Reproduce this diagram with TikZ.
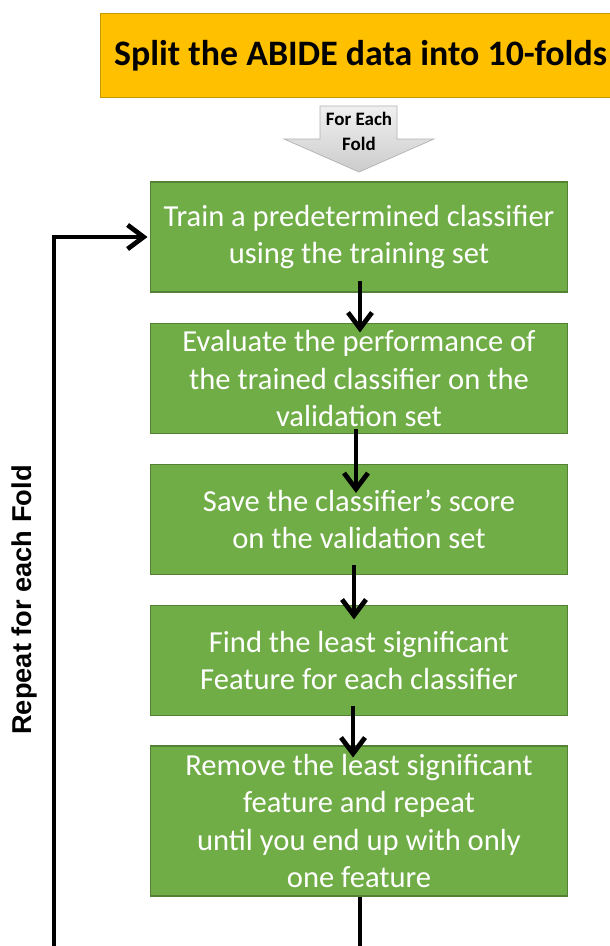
\documentclass[tikz,border=0pt]{standalone}
\usepackage{fontspec}
\setmainfont{Carlito}
\newfontfamily\repfont{Liberation Sans}
\usetikzlibrary{arrows.meta, positioning}

\definecolor{splitfill}{HTML}{FFC000}
\definecolor{splitedge}{HTML}{C99A00}
\definecolor{stepfill}{HTML}{70AD47}
\definecolor{stepedge}{HTML}{548235}

\begin{document}
\begin{tikzpicture}[x=0.02cm, y=-0.02cm,
      splitbox/.style={draw=splitedge, fill=splitfill, line width=0.6pt,
                       minimum width=10.4cm, minimum height=1.68cm, inner sep=0pt,
                       font=\fontsize{20.4}{24}\selectfont\bfseries},
      stepbox/.style={draw=stepedge, fill=stepfill, text=white, line width=0.6pt,
                      minimum width=8.36cm, minimum height=2.2cm, inner sep=0pt,
                      align=center, font=\fontsize{17.4}{21.3}\selectfont},
      foldlbl/.style={align=center, font=\fontsize{10.8}{14.2}\selectfont\bfseries},
      replbl/.style={rotate=90, font=\repfont\fontsize{15.5}{18}\selectfont\bfseries},
      flow/.style={-{Straight Barb[length=3.2mm,width=4.8mm]}, line width=0.095cm},
      loopline/.style={line width=0.095cm}]

    \useasboundingbox (0,0) rectangle (609,946);

    % ===== Split box (runs off the right edge) =====
    \node[splitbox, anchor=north west] (split) at (100,13) {Split the ABIDE data into 10-folds};

    % ===== For each fold arrow =====
    \draw[gray!60, top color=gray!12, bottom color=gray!40, line width=0.4pt]
        (320,106) -- (397,106) -- (397,139) -- (434,139) -- (359,172)
        -- (284,139) -- (320,139) -- cycle;
    \node[foldlbl] (fold) at (359,131) {For Each\\Fold};

    % ===== Steps =====
    \def\cx{359}
    \node[stepbox] (train) at (\cx,237)
        {Train a predetermined classifier\\using the training set};
    \node[stepbox] (evaluate) at (\cx,378.5)
        {Evaluate the performance of\\the trained classifier on the\\validation set};
    \node[stepbox] (save) at (\cx,519.5)
        {Save the classifier’s score\\on the validation set};
    \node[stepbox] (find) at (\cx,660.5)
        {Find the least significant\\Feature for each classifier};
    \node[stepbox, minimum height=3cm] (remove) at (\cx,821)
        {Remove the least significant\\feature and repeat\\until you end up with only\\one feature};

    \draw[flow] ([xshift=0.02cm,yshift=0.24cm]train.south) -- ([xshift=0.02cm,yshift=-0.19cm]evaluate.north);
    \draw[flow] ([xshift=-0.06cm,yshift=0.1cm]evaluate.south) -- ([xshift=-0.06cm,yshift=-0.58cm]save.north);
    \draw[flow] ([xshift=-0.1cm,yshift=0.2cm]save.south) -- ([xshift=-0.1cm,yshift=-0.29cm]find.north);
    \draw[flow] ([xshift=-0.12cm,yshift=0.2cm]find.south) -- ([xshift=-0.12cm,yshift=-0.24cm]remove.north);

    % ===== Repeat loop =====
    \coordinate (loopbot) at (54,946);
    \coordinate (exitbot) at (360,946);
    \draw[loopline] (remove.south -| exitbot) -- (exitbot);
    \draw[flow] (loopbot) |- ([xshift=-0.04cm]train.west);
    \node[replbl] (repeat) at (24,600) {Repeat for each Fold};

\end{tikzpicture}
\end{document}
